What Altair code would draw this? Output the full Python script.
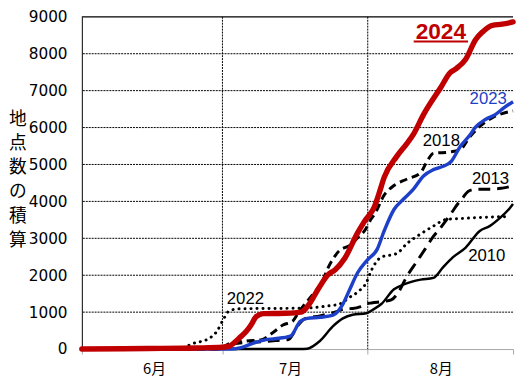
import altair as alt
import pandas as pd

# ---- data (day index: 0 = June 1, 30 = July 1, 61 = Aug 1, 92 = end of Aug) ----
d2024 = [0, 14, 24.6, 30, 31.5, 32.3, 33.6, 35.1, 36.1, 37.2, 38.7, 43.5, 46.8, 48.3, 50.4, 52.5, 54, 56.1, 58.8, 60.3,
         62.4, 63.5, 64.5, 67.2, 69.3, 70.8, 72.9, 76.5, 78.6, 79.8, 81.9, 84, 85.5, 87.6, 89.7, 92]
v2024 = [0, 15, 30, 50, 80, 150, 300, 480, 650, 880, 960, 970, 1000, 1180, 1620, 2010, 2140, 2460, 3140, 3460,
         3850, 4250, 4650, 5220, 5560, 5830, 6350, 7070, 7490, 7590, 7850, 8380, 8590, 8770, 8800, 8860]

d2023 = [0, 32, 34, 36.8, 39.1, 41.2, 44.5, 46.6, 48.1, 50.8, 53.6, 55.7, 57.1, 58.8, 60.9, 63, 64.5, 66.6, 68.7, 70.8,
         72.9, 75, 77.1, 78.8, 80.7, 82.8, 84, 86.1, 88.2, 90.1, 92]
v2023 = [0, 0, 40, 170, 250, 280, 350, 750, 830, 860, 920, 1220, 1600, 2060, 2410, 2700, 3200, 3780, 4070, 4340,
         4690, 4860, 4950, 5080, 5480, 5800, 6010, 6220, 6350, 6540, 6700]

d2018 = [0, 29, 31.5, 35.1, 38.2, 40.8, 42.9, 45, 46.3, 47.1, 49.4, 51.3, 52.5, 54.6, 57.6, 58.8, 60.3, 61.8, 62.4, 64.5,
         66.6, 69.3, 72.3, 73.5, 75, 78.6, 80.7, 82.8, 85.1, 87.6, 89.7, 92]
v2018 = [0, 0, 150, 220, 250, 450, 650, 760, 1000, 1140, 1500, 1830, 2190, 2620, 2850, 3010, 3200, 3540, 3640, 4170,
         4430, 4600, 4780, 5050, 5300, 5340, 5400, 5750, 6050, 6270, 6380, 6450]

d2013 = [0, 29, 31.5, 35.1, 38.2, 41.4, 44.1, 46.2, 47.7, 50.8, 54, 56.1, 57.8, 59.5, 60.9, 61.8, 64.5, 66, 67.6, 69.3,
         71.4, 73.3, 75, 76.5, 78.6, 80.3, 81.4, 82.4, 84, 87.6, 89.7, 92]
v2013 = [0, 0, 120, 180, 200, 230, 260, 650, 830, 900, 1000, 1090, 1100, 1150, 1230, 1250, 1290, 1330, 1550, 1960,
         2360, 2720, 3050, 3280, 3640, 3950, 4120, 4270, 4330, 4330, 4360, 4420]

d2010 = [0, 46.6, 48.1, 50.8, 53.6, 55.7, 57.8, 60.7, 62, 63.9, 66.6, 68.7, 72.3, 75, 77.1, 79.2, 81.9, 84.9, 87, 89.1,
         91.2, 92]
v2010 = [0, 0, 10, 220, 620, 830, 930, 970, 1060, 1220, 1620, 1750, 1880, 1930, 2220, 2490, 2750, 3200, 3330, 3540,
         3800, 3930]

d2022 = [0, 21.4, 23.1, 27.3, 28.8, 30.3, 31.5, 33.6, 47.7, 51.9, 55, 57.1, 59.2, 60.7, 61.8, 63.9, 67.2, 69.3, 72.3, 75,
         77.7, 81.3, 86.1, 91.2]
v2022 = [0, 0, 120, 300, 480, 830, 1040, 1090, 1110, 1160, 1220, 1400, 1580, 1800, 2140, 2490, 2590, 2850, 3120, 3330,
         3510, 3540, 3570, 3590]

month_names = ["6月", "7月", "8月"]
month_mid = [15.5, 44.5, 76.7]
month_bounds = [30, 61]
axis_ticks_x = [0, 30, 61, 92]
y_ticks = list(range(0, 9001, 1000))
y_grid = list(range(1000, 9000, 1000))
y_title_chars = ["地", "点", "数", "の", "積", "算"]

lab_text = ["2023", "2018", "2013", "2010", "2022"]
lab_day = [86.7, 76.7, 87.2, 86.4, 34.9]
lab_val = [6645, 5487, 4461, 2382, 1224]
lab_color = ["#1E40C8", "black", "black", "black", "black"]

main_label = ["2024"]
main_label_day = [76.6]
main_label_val = [8408]
underline_day = [70.8]
underline_day2 = [82.4]
underline_val = [8329]

# ---- chart ----
W, H = 438, 337.5
xs = alt.Scale(domain=[0, 92], nice=False, zero=False)
ys = alt.Scale(domain=[0, 9000], nice=False)
AX = alt.Axis(values=axis_ticks_x, labels=False, grid=False, title=None,
              domainColor="#A6A6A6", tickColor="#A6A6A6", tickSize=5, domainWidth=1)
AY = alt.Axis(values=y_ticks, grid=False, title=None, domainColor="black", domainWidth=1, format="d",
              ticks=True, tickSize=0, labelFont="DejaVu Sans", labelFontSize=15.5,
              labelColor="black", labelPadding=15)


def X(field="day"):
    return alt.X(f"{field}:Q", scale=xs, axis=AX)


def Y(field="v"):
    return alt.Y(f"{field}:Q", scale=ys, axis=AY)


hgrid = alt.Chart(pd.DataFrame({"v": y_grid})).mark_rule(
    color="black", strokeWidth=1, strokeDash=[2, 1]).encode(y=Y())
topline = alt.Chart(pd.DataFrame({"v": [9000]})).mark_rule(
    color="black", strokeWidth=1.2).encode(y=Y())
vgrid = alt.Chart(pd.DataFrame({"day": month_bounds})).mark_rule(
    color="black", strokeWidth=1, strokeDash=[2, 1]).encode(x=X())


def series(days, vals, **kw):
    return alt.Chart(pd.DataFrame({"day": days, "v": vals})).mark_line(
        interpolate="monotone", strokeJoin="round", **kw).encode(x=X(), y=Y())


l2010 = series(d2010, v2010, color="black", strokeWidth=2.5)
l2013 = series(d2013, v2013, color="black", strokeWidth=3, strokeDash=[12, 7])
l2022 = series(d2022, v2022, color="black", strokeWidth=3, strokeDash=[0.1, 6], strokeCap="round")
l2018 = series(d2018, v2018, color="black", strokeWidth=3, strokeDash=[8, 5])
l2023 = series(d2023, v2023, color="#1E40C8", strokeWidth=3.5)
l2024 = series(d2024, v2024, color="#C00000", strokeWidth=5.5, strokeCap="round")

labels = alt.Chart(pd.DataFrame({"t": lab_text, "day": lab_day, "v": lab_val, "c": lab_color})).mark_text(
    font="Liberation Sans", fontSize=17, align="center", baseline="alphabetic").encode(
    x=X(), y=Y(), text="t:N", color=alt.Color("c:N", scale=None))

big = alt.Chart(pd.DataFrame({"t": main_label, "day": main_label_day, "v": main_label_val})).mark_text(
    font="Liberation Sans", fontSize=23, fontWeight="bold", color="#C00000",
    align="center", baseline="alphabetic").encode(x=X(), y=Y(), text="t:N")
uline = alt.Chart(pd.DataFrame({"day": underline_day, "day2": underline_day2, "v": underline_val})).mark_rule(
    color="#C00000", strokeWidth=2).encode(x=X(), x2="day2:Q", y=Y())

months = alt.Chart(pd.DataFrame({"m": month_names, "day": month_mid})).mark_text(
    font="Noto Sans CJK JP", fontSize=15, color="black", align="center", baseline="middle").encode(
    x=X(), y=alt.value(H + 20.5), text="m:N")

ytitle = alt.Chart(pd.DataFrame({"k": [0]})).mark_text(
    text=y_title_chars, font="Noto Sans CJK JP", fontSize=18, lineHeight=24.5,
    align="center", baseline="middle", color="black").encode(
    x=alt.value(-65), y=alt.value(105))

chart = alt.layer(
    hgrid, vgrid, topline, l2010, l2013, l2022, l2018, l2023, l2024,
    labels, big, uline, months, ytitle
).properties(
    width=W, height=H,
    padding={"left": 75, "top": 6, "right": 3, "bottom": 30},
    autosize=alt.AutoSizeParams(type="none"),
).configure_view(stroke=None)

chart.save("out.html", embed_options={"renderer": "svg", "actions": False})
